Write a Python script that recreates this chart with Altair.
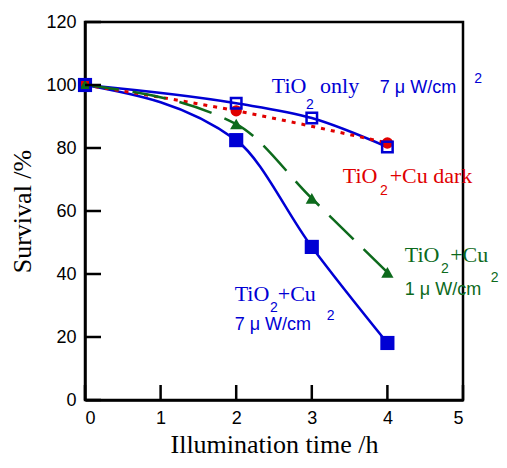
import altair as alt
import pandas as pd

# ---- data ----
time_h = [0, 2, 3, 4]
tio2_only = [100, 94.2, 89.5, 80.3]          # open blue squares
dark_time = [0, 2, 4]
tio2_cu_dark = [100, 91.8, 81.6]             # red circles
tio2_cu_1uw = [100, 87.6, 64, 40.5]          # green triangles
tio2_cu_7uw = [100, 82.5, 48.6, 18.1]        # filled blue squares

x_ticks = [0, 1, 2, 3, 4, 5]
y_ticks = [0, 20, 40, 60, 80, 100, 120]

BLUE = "#0000d4"
RED = "#e00000"
GREEN = "#0d6a1c"

# annotations (data coordinates)
serif_texts = [
    ("TiO", 2.47, 97.5, BLUE), ("only", 3.11, 97.5, BLUE),
    ("TiO", 3.41, 68.9, RED), ("+Cu dark", 4.03, 68.9, RED),
    ("TiO", 4.23, 43.8, GREEN), ("+Cu", 4.83, 43.8, GREEN),
    ("TiO", 1.98, 31.4, BLUE), ("+Cu", 2.55, 31.4, BLUE),
]
unit_texts = [
    ("7 μ W/cm", 3.90, 97.5, BLUE),
    ("1 μ W/cm", 4.23, 33.3, GREEN),
    ("7 μ W/cm", 1.98, 22.2, BLUE),
]
small_texts = [
    ("2", 2.976, 92.4, BLUE), ("2", 5.20, 100.6, BLUE),
    ("2", 3.955, 65.1, RED),
    ("2", 4.76, 40.3, GREEN), ("2", 5.42, 37.5, GREEN),
    ("2", 2.50, 27.9, BLUE), ("2", 3.25, 25.4, BLUE),
]

def df_of(xs, ys):
    return pd.DataFrame({"t": xs, "s": ys})

def ann_df(rows):
    return pd.DataFrame(rows, columns=["txt", "x", "y", "c"])

xs = alt.Scale(domain=[0, 5], nice=False)
ys = alt.Scale(domain=[0, 120], nice=False)

X = alt.X("t:Q", scale=xs, axis=alt.Axis(values=x_ticks, format="d", title="Illumination time /h"))
Y = alt.Y("s:Q", scale=ys, axis=alt.Axis(values=y_ticks, format="d", title="Survival /%"))

def line(df, color, dash=None, width=2.5):
    kw = dict(color=color, strokeWidth=width, interpolate="monotone")
    if dash:
        kw["strokeDash"] = dash
    return alt.Chart(df).mark_line(**kw).encode(x=X, y=Y)

d_only = df_of(time_h, tio2_only)
d_dark = df_of(dark_time, tio2_cu_dark)
d_1 = df_of(time_h, tio2_cu_1uw)
d_7 = df_of(time_h, tio2_cu_7uw)

layers = [
    line(d_7, BLUE),
    line(d_only, BLUE),
    line(d_dark, RED, dash=[4, 6], width=3),
    line(d_1, GREEN, dash=[34, 14], width=2.5),
    alt.Chart(d_7).mark_point(shape="square", filled=True, color=BLUE, size=200, opacity=1).encode(x=X, y=Y),
    alt.Chart(d_dark).mark_point(shape="circle", filled=True, color=RED, size=130, opacity=1).encode(x=X, y=Y),
    alt.Chart(d_1).mark_point(shape="triangle-up", filled=True, color=GREEN, size=150, opacity=1).encode(x=X, y=Y),
    alt.Chart(d_only).mark_point(shape="square", filled=False, color=BLUE, size=110, strokeWidth=2.5, opacity=1).encode(x=X, y=Y),
]

# inward ticks
xt = pd.DataFrame({"t": x_ticks})
yt = pd.DataFrame({"s": y_ticks})
layers.append(alt.Chart(xt).mark_rule(color="black", strokeWidth=2.5).encode(
    x=alt.X("t:Q", scale=xs), y=alt.value(378), y2=alt.value(363)))
layers.append(alt.Chart(yt).mark_rule(color="black", strokeWidth=2.5).encode(
    y=alt.Y("s:Q", scale=ys), x=alt.value(0), x2=alt.value(16)))

def text_layer(rows, font, size, align):
    return alt.Chart(ann_df(rows)).mark_text(font=font, fontSize=size, align=align, baseline="alphabetic").encode(
        x=alt.X("x:Q", scale=xs), y=alt.Y("y:Q", scale=ys),
        text="txt:N", color=alt.Color("c:N", scale=None))

layers.append(text_layer(serif_texts, "Liberation Serif", 22, "left"))
layers.append(text_layer(unit_texts, "Liberation Sans", 18, "left"))
layers.append(text_layer(small_texts, "Liberation Sans", 14, "center"))

chart = alt.layer(*layers).properties(
    width=378, height=378,
    padding={"left": 77, "top": 14, "right": 36, "bottom": 60},
    autosize=alt.AutoSizeParams(type="none"),
).configure_view(
    stroke="black", strokeWidth=2.5
).configure_axis(
    grid=False, ticks=False, domainColor="black", domainWidth=2.5,
    labelFont="Liberation Sans", labelFontSize=18, labelColor="black",
    titleFont="Liberation Serif", titleFontSize=26, titleFontWeight="normal", titleColor="black",
    labelPadding=9,
).configure_axisX(titlePadding=4).configure_axisY(titlePadding=10)

chart.save("out.html", embed_options={"renderer": "svg", "actions": False})
